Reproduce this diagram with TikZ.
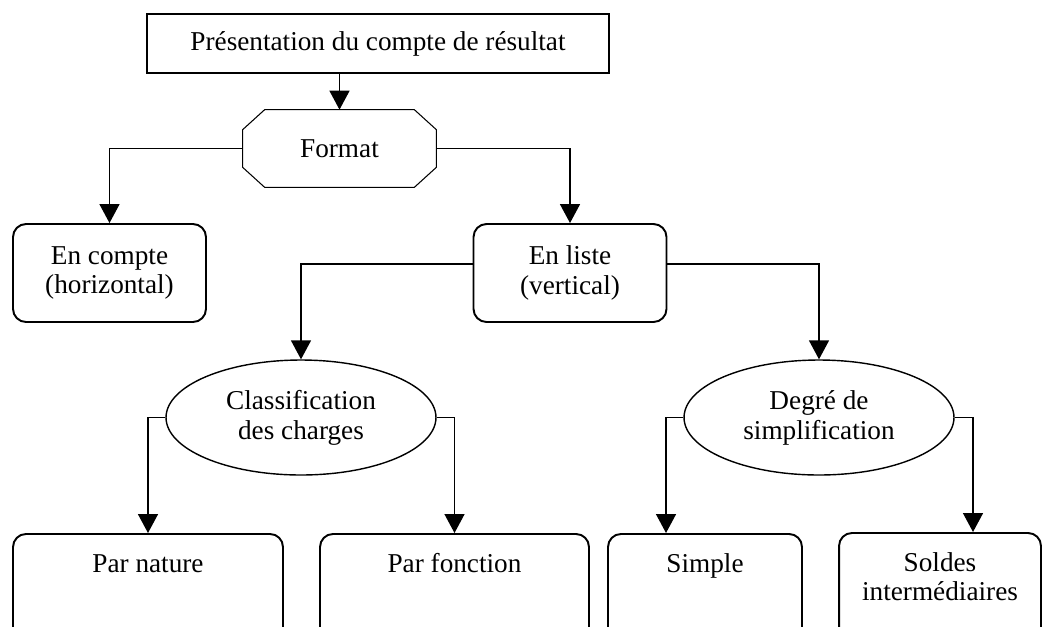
\documentclass[tikz,border=0pt]{standalone}
\usepackage{fontspec}
\setmainfont{Liberation Serif}
\usetikzlibrary{arrows.meta,shapes.geometric,calc}

\begin{document}
\begin{tikzpicture}[x=0.02cm,y=-0.02cm,
    font=\fontsize{15.5pt}{17pt}\selectfont,
    titlebox/.style={draw,line width=1.1pt,minimum width=9.24cm,minimum height=1.18cm,inner sep=0pt},
    formbox/.style={minimum width=3.86cm,minimum height=1.54cm,inner sep=0pt},
    midbox/.style={draw,line width=1.1pt,rounded corners=0.26cm,align=center,
      minimum width=3.86cm,minimum height=1.96cm,inner sep=0pt},
    oval/.style={draw,ellipse,line width=0.8pt,align=center,
      minimum width=5.4cm,minimum height=2.3cm,inner sep=0pt},
    leafbox/.style={draw,line width=1.1pt,rounded corners=0.26cm,align=center,anchor=north,
      inner ysep=0pt,text height=0.78cm,text depth=1.76cm},
    link/.style={line width=0.85pt,-{Triangle[length=0.38cm,width=0.4cm]}}]

      % picture frame
      \clip (0,0) rectangle (1043,626);

      % draw top and format
      \node[titlebox] (pres) at (378,43.5) {Présentation du compte de résultat};
      \node[formbox] (fmt) at (339.5,148.5) {Format};
      \draw[line width=0.6pt] ($(fmt.north west)+(22,0)$) -- ($(fmt.north east)+(-22,0)$)
        -- ($(fmt.north east)+(0,20)$) -- ($(fmt.south east)+(0,-20)$)
        -- ($(fmt.south east)+(-22,0)$) -- ($(fmt.south west)+(22,0)$)
        -- ($(fmt.south west)+(0,-20)$) -- ($(fmt.north west)+(0,20)$) -- cycle;

      % draw second level
      \node[midbox] (compte) at (109.5,273) {En compte\\(horizontal)};
      \node[midbox] (liste) at (570,273) {En liste\\(vertical)};

      % draw ellipses
      \node[oval] (classif) at (301,417.5) {Classification\\des charges};
      \node[oval] (degre) at (819,417.5) {Degré de\\simplification};

      % draw bottom boxes
      \node[leafbox,minimum width=5.4cm] (nat) at (148,533) {Par nature};
      \node[leafbox,minimum width=5.38cm] (fct) at (454.5,533) {Par fonction};
      \node[leafbox,minimum width=3.88cm] (simple) at (705,533) {Simple};
      \node[leafbox,minimum width=4.04cm,text height=1.36cm,text depth=1.2cm] (soldes) at (940,532) {Soldes\\intermédiaires};

      % draw arrows
      \draw[link] (pres.south -| fmt.north) -- (fmt.north);
      \foreach \a/\b in {fmt.west/compte.north,fmt.east/liste.north,
                         classif.west/nat.north,classif.east/fct.north}
      \draw[link] (\a) -| (\b);
      \draw[link] ([yshift=0.18cm]liste.west) -| (classif.north);
      \draw[link] ([yshift=0.18cm]liste.east) -| (degre.north);
      \draw[link] (degre.west) -| ([xshift=-0.78cm]simple.north);
      \draw[link] (degre.east) -| ([xshift=0.66cm]soldes.north);

\end{tikzpicture}
\end{document}
